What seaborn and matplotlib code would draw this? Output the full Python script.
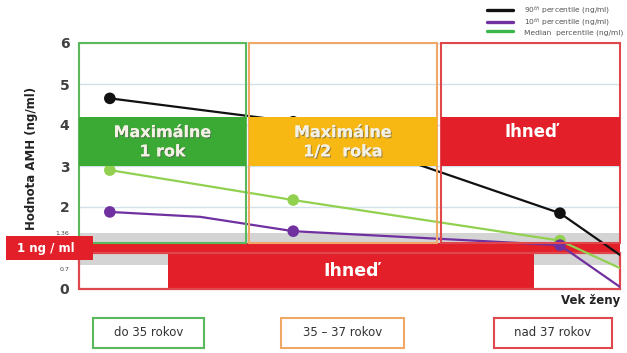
import matplotlib
matplotlib.use("Agg")
import matplotlib.pyplot as plt
import matplotlib.patheffects as pe
from matplotlib.patches import Rectangle
from matplotlib.transforms import ScaledTranslation
import pandas as pd
import seaborn as sns

# --- data -------------------------------------------------------------
# position of each reading along the age axis (no numeric scale shown)
p90_vek = [0.57, 3.96, 8.89, 10.0]
p90_amh = [4.65, 4.08, 1.85, 0.83]
p10_vek = [0.57, 2.24, 3.96, 8.89, 10.0]
p10_amh = [1.88, 1.76, 1.41, 1.07, 0.05]
med_vek = [0.57, 3.96, 8.89, 10.0]
med_amh = [2.90, 2.17, 1.18, 0.51]
# readings that carry a marker (one per age group)
p90_bod = [True, True, True, False]
p10_bod = [True, False, True, True, False]
med_bod = [True, True, True, False]

serie = ["90$^{th}$ percentile (ng/ml)",
         "10$^{th}$ percentile (ng/ml)",
         "Median  percentile (ng/ml)"]
farby = ["#111111", "#7030a0", "#92d050"]

vekove_skupiny = ["do 35 rokov", "35 – 37 rokov", "nad 37 rokov"]
odporucania = ["Maximálne\n1 rok", "Maximálne\n1/2  roka", "Ihneď"]

y_ticks = [0, 0.7, 1.36, 2, 3, 4, 5, 6]
y_labels = ["0", "0.7", "1.36", "2", "3", "4", "5", "6"]
hranica = 1.0          # threshold, ng/ml
hranica_text = "1 ng / ml"
spodne_odporucanie = "Ihneď"

# --- layout -----------------------------------------------------------
W, H = 627, 353
sns.set_theme(style="white")
plt.rcParams["font.family"] = ["DejaVu Sans"]

fig = plt.figure(figsize=(W / 100, H / 100), dpi=100)
ax = fig.add_axes([79 / W, 1 - 289 / H, 541 / W, 246 / H])
ax.set_xlim(0, 10)
ax.set_ylim(0, 6)
for s in ax.spines.values():
    s.set_visible(False)

ZELENA, ORANZOVA, CERVENA = "#3aaa35", "#f8b814", "#e3202a"
skupina_od = [0.0, 3.14, 6.69]
skupina_do = [3.09, 6.62, 10.0]
okraje = ["#5cb85c", "#f0a868", "#e0474c"]
vyplne = [ZELENA, ORANZOVA, CERVENA]
pasmo = 0.12  # half height of the threshold band

# background: grey zone and faint grid
ax.axhspan(0.59, 1.36, color="#d4d4d4", zorder=0.5, lw=0)
ax.hlines([2, 3, 4, 5, 6], 0, 10, color="#d3e2ea", lw=1, zorder=0.6)

# threshold band and bottom "immediately" block
ax.axhspan(hranica - pasmo, hranica + pasmo, color=CERVENA, zorder=1.5, lw=0)
ax.add_patch(Rectangle((0, 0), 10, hranica - pasmo, fill=False,
                       ec="#e0474c", lw=1.6, zorder=1.6, clip_on=False))
ax.add_patch(Rectangle((1.65, 0), 8.41 - 1.65, hranica - pasmo,
                       color=CERVENA, lw=0, zorder=1.55))
ax.text((1.65 + 8.41) / 2, (hranica - pasmo) / 2, spodne_odporucanie,
        color="white", fontsize=12.5, fontweight="bold",
        ha="center", va="center", zorder=1.7)

# percentile lines
casti = [(p90_vek, p90_amh, serie[0], p90_bod),
         (med_vek, med_amh, serie[2], med_bod),
         (p10_vek, p10_amh, serie[1], p10_bod)]
df = pd.concat([pd.DataFrame({"vek": v, "amh": a, "seria": s, "bod": b})
                for v, a, s, b in casti], ignore_index=True)
paleta = dict(zip(serie, farby))
sns.lineplot(data=df, x="vek", y="amh", hue="seria", hue_order=serie,
             palette=paleta, sort=False, estimator=None, lw=1.6,
             zorder=2, ax=ax)
sns.scatterplot(data=df[df["bod"]], x="vek", y="amh", hue="seria",
                hue_order=serie, palette=paleta, s=70, edgecolor="none",
                legend=False, zorder=2.5, ax=ax)

# age-group outlines and recommendation blocks
tien = [pe.withSimplePatchShadow(offset=(0.8, -0.8), shadow_rgbFace="#555555",
                                 alpha=0.6), pe.Normal()]
for od, do, okraj, vypln, txt in zip(skupina_od, skupina_do, okraje,
                                     vyplne, odporucania):
    ax.add_patch(Rectangle((od, hranica + pasmo), do - od, 6 - hranica - pasmo,
                           fill=False, ec=okraj, lw=1.5, zorder=3,
                           clip_on=False))
    ax.add_patch(Rectangle((od, 3.0), do - od, 1.2, color=vypln, lw=0,
                           zorder=4))
    if "\n" in txt:
        ax.text((od + do) / 2, 3.58, txt, ha="center", va="center",
                fontsize=11.5, fontweight="semibold", color="#f3f0e4",
                linespacing=1.35, zorder=5, path_effects=tien)
    else:
        ax.text((od + do) / 2, 3.83, txt, ha="center", va="center",
                fontsize=12, fontweight="bold", color="white", zorder=5)

# threshold label sticking out to the left
ax.add_patch(Rectangle((-1.35, hranica - 0.3), 1.61, 0.6, color=CERVENA,
                       lw=0, zorder=6, clip_on=False))
ax.text(-0.62, hranica - 0.02, hranica_text, color="white", fontsize=8.5,
        fontweight="bold", ha="center", va="center", zorder=7, clip_on=False)

# axes text
ax.set_xticks([])
ax.set_yticks(y_ticks)
ax.set_yticklabels(y_labels)
ax.tick_params(axis="y", length=0, pad=7, colors="#404040")
for lab, v in zip(ax.get_yticklabels(), y_ticks):
    if v in (0.7, 1.36):
        lab.set_fontsize(4.5)
        if v == 0.7:
            lab.set_transform(lab.get_transform() +
                              ScaledTranslation(0, -9 / 100, fig.dpi_scale_trans))
    else:
        lab.set_fontsize(10)
        lab.set_fontweight("bold")

ax.set_ylabel("Hodnota AMH (ng/ml)", fontsize=8.5, fontweight="bold",
              color="#222222")
ax.yaxis.set_label_coords(-0.076, 0.53)
ax.set_xlabel("Vek ženy", loc="right", fontsize=8.5, fontweight="bold",
              color="#222222")
ax.xaxis.set_label_coords(1.0, -0.022)

# legend in the top right corner
sns.move_legend(ax, "upper left", bbox_to_anchor=(487 / W, 1 - 4 / H),
                bbox_transform=fig.transFigure, frameon=False, title=None,
                fontsize=5.4, handlelength=3.4, handletextpad=1.5,
                labelspacing=0.05, borderpad=0, borderaxespad=0)
leg = ax.get_legend()
for h in leg.legend_handles:
    h.set_linewidth(2.4)
leg.legend_handles[2].set_color("#3cb54a")
for t in leg.get_texts():
    t.set_color("#555555")

# age-group captions under the chart
kapsle = [(93, 204), (281, 404), (494, 612)]
for (x0, x1), okraj, txt in zip(kapsle, okraje, vekove_skupiny):
    fig.add_artist(Rectangle((x0 / W, 1 - 348 / H), (x1 - x0) / W, 30 / H,
                             fill=False, ec=okraj, lw=1.5,
                             transform=fig.transFigure))
    fig.text((x0 + x1) / 2 / W, 1 - 333 / H, txt, ha="center", va="center",
             fontsize=8.5, color="#333333")

fig.savefig("out.png", dpi=100)
